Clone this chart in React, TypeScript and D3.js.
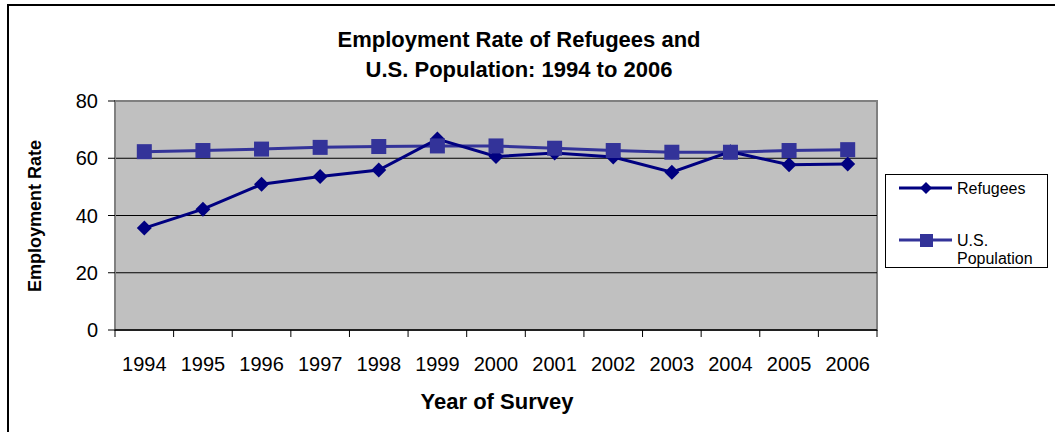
import React from "react";
import * as d3 from "d3";

const years = ["1994","1995","1996","1997","1998","1999","2000","2001","2002","2003","2004","2005","2006"];
const refugees = [35.6, 42.2, 50.9, 53.6, 55.9, 66.7, 60.6, 61.8, 60.4, 55.1, 62.3, 57.7, 58.0];
const usPopulation = [62.3, 62.7, 63.2, 63.8, 64.1, 64.3, 64.3, 63.5, 62.7, 62.1, 62.1, 62.7, 63.0];
const yTicks = [0, 20, 40, 60, 80];

const W = 1055, H = 432;
const plot = { left: 115, top: 101, right: 877, bottom: 330 };
const FONT = "'Liberation Sans', Arial, sans-serif";

export default function App() {
  const x = d3.scaleBand().domain(years).range([plot.left, plot.right]);
  const y = d3.scaleLinear().domain([0, 80]).range([plot.bottom, plot.top]);
  const cx = (i: number) => (x(years[i]) as number) + x.bandwidth() / 2;
  const line = d3.line<number>().x((_, i) => cx(i)).y(d => y(d));
  const diamond = (px: number, py: number, r: number) =>
    `M${px},${py - r}L${px + r},${py}L${px},${py + r}L${px - r},${py}Z`;
  const tickXs = d3.range(years.length + 1).map(i => plot.left + i * x.bandwidth());

  return (
    <svg width={W} height={H} style={{ position: "absolute", left: 0, top: 0, background: "#fff" }} fontFamily={FONT}>
      <rect x={8} y={5} width={1060} height={440} fill="#fff" stroke="#000" strokeWidth={2} />
      <text x={519} y={47} textAnchor="middle" fontSize={22} fontWeight="bold">Employment Rate of Refugees and</text>
      <text x={519} y={77} textAnchor="middle" fontSize={22} fontWeight="bold">U.S. Population: 1994 to 2006</text>

      <rect x={plot.left} y={plot.top} width={plot.right - plot.left} height={plot.bottom - plot.top} fill="#c0c0c0" stroke="#808080" strokeWidth={2} />
      {yTicks.filter(t => t > 0 && t < 80).map(t => (
        <line key={t} x1={plot.left} x2={plot.right} y1={y(t)} y2={y(t)} stroke="#000" strokeWidth={1} />
      ))}
      {/* y axis */}
      <line x1={plot.left} x2={plot.left} y1={plot.top} y2={plot.bottom} stroke="#808080" strokeWidth={2} />
      {yTicks.map(t => (
        <g key={t}>
          <line x1={plot.left - 7} x2={plot.left} y1={y(t)} y2={y(t)} stroke="#000" strokeWidth={1} />
          <text x={98} y={y(t)} dy="0.35em" textAnchor="end" fontSize={20}>{t}</text>
        </g>
      ))}
      {/* x axis */}
      <line x1={plot.left} x2={plot.right} y1={plot.bottom} y2={plot.bottom} stroke="#000" strokeWidth={1.5} />
      {tickXs.map((tx, i) => (
        <line key={i} x1={tx} x2={tx} y1={plot.bottom} y2={plot.bottom + 7} stroke="#000" strokeWidth={1} />
      ))}
      {years.map((yr, i) => (
        <text key={yr} x={cx(i)} y={371} textAnchor="middle" fontSize={20}>{yr}</text>
      ))}
      <text x={497} y={409} textAnchor="middle" fontSize={22} fontWeight="bold">Year of Survey</text>
      <text transform="translate(41,216) rotate(-90)" textAnchor="middle" fontSize={18} fontWeight="bold">Employment Rate</text>

      {/* series */}
      <path d={line(usPopulation) || ""} fill="none" stroke="#333399" strokeWidth={3} />
      <path d={line(refugees) || ""} fill="none" stroke="#000080" strokeWidth={3} />
      {refugees.map((v, i) => (
        <path key={"r" + i} d={diamond(cx(i), y(v), 7.5)} fill="#000080" />
      ))}
      {usPopulation.map((v, i) => (
        <rect key={"u" + i} x={cx(i) - 7.5} y={y(v) - 7.5} width={15} height={15} fill="#333399" />
      ))}

      {/* legend */}
      <rect x={885.5} y={174.5} width={162} height={93} fill="#fff" stroke="#000" strokeWidth={1} />
      <line x1={899} x2={952} y1={188} y2={188} stroke="#000080" strokeWidth={3} />
      <path d={diamond(926, 188, 6)} fill="#000080" />
      <text x={957} y={194} fontSize={16}>Refugees</text>
      <line x1={899} x2={952} y1={240} y2={240} stroke="#333399" strokeWidth={3} />
      <rect x={920} y={234} width={13} height={13} fill="#333399" />
      <text x={957} y={246} fontSize={16}>U.S.</text>
      <text x={957} y={264} fontSize={16}>Population</text>
    </svg>
  );
}
